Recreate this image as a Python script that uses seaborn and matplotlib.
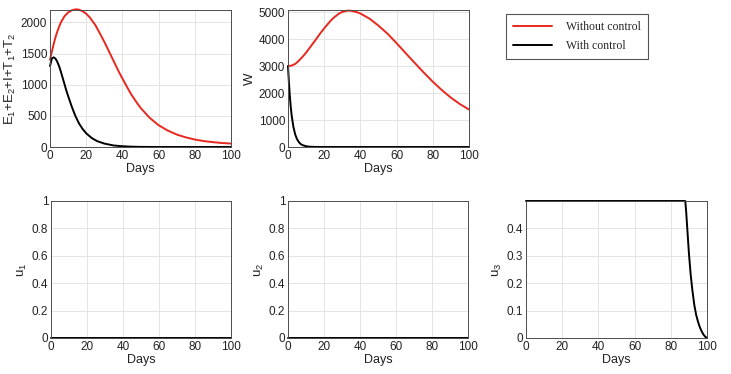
import numpy as np
import pandas as pd
import seaborn as sns
import matplotlib.pyplot as plt

# infected compartments E1+E2+I+T1+T2
days_inf_red = [0, 1, 2, 3, 4, 5, 6, 8, 10, 12, 14, 15, 16, 18, 20, 22, 25, 28, 30, 33, 35, 38,
                40, 43, 45, 48, 50, 55, 60, 65, 70, 75, 80, 85, 90, 95, 100]
inf_red = [1400, 1530, 1650, 1760, 1850, 1930, 2000, 2100, 2160, 2195, 2210, 2210, 2205, 2180,
           2140, 2080, 1960, 1800, 1690, 1510, 1390, 1210, 1100, 940, 840, 710, 630, 470, 350,
           265, 200, 155, 120, 95, 78, 64, 55]
days_inf_blk = [0, 1, 2, 3, 4, 5, 6, 7, 8, 9, 10, 12, 14, 16, 18, 20, 23, 26, 30, 35, 40, 45,
                50, 60, 70, 80, 90, 100]
inf_blk = [1300, 1420, 1440, 1420, 1370, 1300, 1210, 1110, 1010, 910, 820, 650, 500, 380, 290,
           220, 145, 95, 55, 25, 12, 5, 2, 0, 0, 0, 0, 0]

# W compartment
days_w_red = [0, 2, 4, 6, 8, 10, 12, 15, 18, 20, 23, 25, 28, 30, 33, 35, 38, 40, 45, 50, 55,
              60, 65, 70, 75, 80, 85, 90, 95, 100]
w_red = [3000, 3020, 3080, 3200, 3340, 3500, 3680, 3950, 4230, 4400, 4640, 4780, 4940, 5010,
         5060, 5050, 5000, 4950, 4760, 4500, 4200, 3850, 3480, 3120, 2760, 2420, 2110, 1830,
         1590, 1390]
days_w_blk = [0, 0.5, 1, 1.5, 2, 3, 4, 5, 6, 7, 8, 10, 12, 15, 20, 30, 40, 50, 60, 70, 80, 90, 100]
w_blk = [3000, 2400, 1900, 1500, 1180, 740, 460, 290, 180, 110, 70, 28, 11, 3, 0, 0, 0, 0, 0,
         0, 0, 0, 0]

# controls
days_u = [0, 20, 40, 60, 80, 100]
u1 = [0, 0, 0, 0, 0, 0]
u2 = [0, 0, 0, 0, 0, 0]
days_u3 = [0, 88, 88.5, 89, 89.5, 90, 91, 92, 93, 94, 95, 96, 97, 98, 99, 100]
u3 = [0.5, 0.5, 0.46, 0.41, 0.36, 0.31, 0.23, 0.17, 0.12, 0.085, 0.06, 0.04, 0.025, 0.013,
      0.005, 0]

sns.set_style("whitegrid")
plt.rcParams['font.family'] = ['Liberation Sans', 'DejaVu Sans']
plt.rcParams['mathtext.default'] = 'regular'
plt.rcParams['font.size'] = 8.5

red = '#e8281e'
black = '#000000'

fig = plt.figure(figsize=(7.31, 3.74), dpi=100)
W, H = 731, 374
def box(x0, x1, y0, y1):
    return [x0 / W, 1 - y1 / H, (x1 - x0) / W, (y1 - y0) / H]

ax1 = fig.add_axes(box(50, 231, 10, 147))
ax2 = fig.add_axes(box(288, 469, 10, 147))
ax3 = fig.add_axes(box(51, 231, 201, 338))
ax4 = fig.add_axes(box(288, 468, 201, 338))
ax5 = fig.add_axes(box(526, 707, 201, 338))

def style(ax, ylabel, xlabel='Days'):
    ax.set_xlim(0, 100)
    ax.set_xticks([0, 20, 40, 60, 80, 100])
    ax.grid(True, color='#e4e4e4', linewidth=0.7)
    for s in ax.spines.values():
        s.set_visible(True)
        s.set_color('#4d4d4d')
        s.set_linewidth(0.7)
    ax.tick_params(direction='in', length=2.5, color='#4d4d4d', labelsize=8.5, pad=2,
                   labelcolor='#222222')
    ax.set_ylabel(ylabel, fontsize=9.5, labelpad=2, color='#222222')
    ax.set_xlabel(xlabel, fontsize=9, labelpad=1, color='#222222')

lw = 1.4
sns.lineplot(x=days_inf_red, y=inf_red, ax=ax1, color=red, linewidth=lw, label='Without control',
             clip_on=False)
sns.lineplot(x=days_inf_blk, y=inf_blk, ax=ax1, color=black, linewidth=lw, label='With control',
             clip_on=False)
ax1.set_ylim(0, 2200)
ax1.set_yticks([0, 500, 1000, 1500, 2000])
style(ax1, 'E$_1$+E$_2$+I+T$_1$+T$_2$')

sns.lineplot(x=days_w_red, y=w_red, ax=ax2, color=red, linewidth=lw, clip_on=False)
sns.lineplot(x=days_w_blk, y=w_blk, ax=ax2, color=black, linewidth=lw, clip_on=False)
ax2.set_ylim(0, 5080)
ax2.set_yticks([0, 1000, 2000, 3000, 4000, 5000])
style(ax2, 'W')

sns.lineplot(x=days_u, y=u1, ax=ax3, color=black, linewidth=lw, clip_on=False)
ax3.set_ylim(0, 1)
ax3.set_yticks([0, 0.2, 0.4, 0.6, 0.8, 1])
ax3.set_yticklabels(['0', '0.2', '0.4', '0.6', '0.8', '1'])
style(ax3, 'u$_1$')

sns.lineplot(x=days_u, y=u2, ax=ax4, color=black, linewidth=lw, clip_on=False)
ax4.set_ylim(0, 1)
ax4.set_yticks([0, 0.2, 0.4, 0.6, 0.8, 1])
ax4.set_yticklabels(['0', '0.2', '0.4', '0.6', '0.8', '1'])
style(ax4, 'u$_2$')

sns.lineplot(x=days_u3, y=u3, ax=ax5, color=black, linewidth=lw, clip_on=False)
ax5.set_ylim(0, 0.5)
ax5.set_yticks([0, 0.1, 0.2, 0.3, 0.4])
ax5.set_yticklabels(['0', '0.1', '0.2', '0.3', '0.4'])
style(ax5, 'u$_3$')

h, l = ax1.get_legend_handles_labels()
ax1.legend([], [], frameon=False)
leg = fig.legend(h, l, loc='upper left', bbox_to_anchor=(506 / W, 1 - 14 / H),
                 frameon=True, fancybox=False, edgecolor='#555555', framealpha=1,
                 prop={'family': 'Liberation Serif', 'size': 8.5},
                 handlelength=3.3, handletextpad=1.2, borderpad=0.6, labelspacing=0.6,
                 borderaxespad=0)
leg.get_frame().set_linewidth(0.8)

fig.savefig('out.png', dpi=100)
